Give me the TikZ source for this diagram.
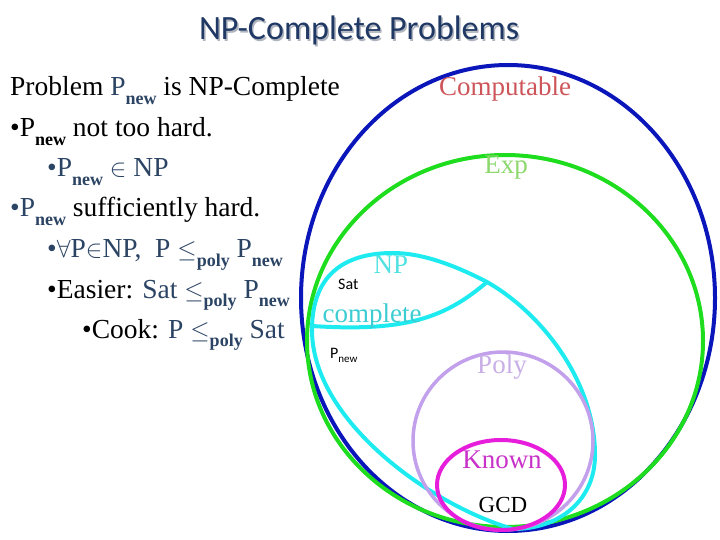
\documentclass[tikz,border=0pt]{standalone}
\usepackage{fontspec}
\setmainfont{Liberation Serif}
\newfontfamily\titlefont{Carlito}
\newfontfamily\labsans{Carlito}
\definecolor{titleblue}{RGB}{31,56,100}
\definecolor{shadowgray}{RGB}{175,180,190}
\definecolor{txtblue}{RGB}{44,68,100}
\definecolor{ccomp}{RGB}{10,22,185}
\definecolor{cexp}{RGB}{30,220,30}
\definecolor{cnp}{RGB}{30,235,240}
\definecolor{cpoly}{RGB}{195,160,235}
\definecolor{cknown}{RGB}{230,30,220}
\definecolor{tcomp}{RGB}{205,85,90}
\definecolor{texp}{RGB}{140,215,110}
\definecolor{tnp}{RGB}{80,225,225}
\definecolor{tcompl}{RGB}{60,205,210}
\definecolor{tpoly}{RGB}{200,175,230}
\definecolor{tknown}{RGB}{200,50,200}
\newcommand\lowsub[1]{\raisebox{-0.3em}{\fontsize{18}{18}\selectfont\bfseries #1}}
\newcommand\Pnew{P\lowsub{new}}
\newcommand\lepoly{$\leq$\lowsub{poly}}
\begin{document}
\begin{tikzpicture}[x=1pt,y=-1pt,
  txt/.style={anchor=base west,inner sep=0pt,font=\fontsize{27.5}{27.5}\selectfont},
  lab/.style={anchor=base,inner sep=0pt,font=\fontsize{27}{27}\selectfont},
  setline/.style={line width=4pt}]
\useasboundingbox (0,0) rectangle (720,540);
% title
\node[anchor=base,inner sep=0pt,font=\titlefont\fontsize{34}{34}\selectfont,text=shadowgray] (titlesh) at (360.5,41.5) {NP-Complete Problems};
\node[anchor=base,inner sep=0pt,font=\titlefont\fontsize{34}{34}\selectfont,text=titleblue] (title) at (359,40) {NP-Complete Problems};
% left text
\node[txt] (l1) at (10,96) {Problem \textcolor{txtblue}{\Pnew} is NP-Complete};
\node[txt] (l2) at (10,137) {•\Pnew\ not too hard.};
\node[txt,text=txtblue] (l3) at (47,177) {•\Pnew\ $\in$ NP};
\node[txt] (l4) at (10,217) {\textcolor{txtblue}{•\Pnew} sufficiently hard.};
\node[txt,text=txtblue] (l5) at (47,258) {•$\forall$P$\in$NP,\ \ P \lepoly\ \Pnew};
\node[txt] (l6) at (47,298) {•Easier: \textcolor{txtblue}{Sat \lepoly\ \Pnew}};
\node[txt] (l7) at (82,338) {•Cook: \textcolor{txtblue}{P \lepoly\ Sat}};
% sets
\draw[setline,ccomp] (508,298) ellipse [x radius=207, y radius=233];
\draw[setline,cexp] (505,341) ellipse [x radius=198, y radius=186];
\draw[setline,cnp] (513,529) .. controls (430,505) and (312,420) .. (312,330)
  .. controls (312,270) and (350,253) .. (393,253)
  .. controls (425,253) and (460,268) .. (487,282)
  .. controls (540,312) and (595,380) .. (595,455)
  .. controls (595,500) and (560,529) .. cycle;
\draw[setline,cnp] (312,326) .. controls (405,332) and (445,318) .. (487,282);
\draw[line width=3.5pt,cpoly] (503,441) ellipse [x radius=90, y radius=89];
\draw[setline,cknown] (501,485) ellipse [x radius=64, y radius=45];
% labels
\node[lab,text=tcomp] (lcomp) at (505,96) {Computable};
\node[lab,text=texp] (lexp) at (506,174) {Exp};
\node[lab,text=tnp] (lnp) at (391,273) {NP};
\node[lab,text=tcompl] (lcompl) at (372,322) {complete};
\node[lab,text=tpoly] (lpoly) at (502,373) {Poly};
\node[lab,text=tknown] (lknown) at (502,468) {Known};
\node[lab,font=\fontsize{23}{23}\selectfont] (lgcd) at (503,512) {GCD};
\node[anchor=base west,inner sep=0pt,font=\labsans\fontsize{16}{16}\selectfont] (lsat) at (338,289) {Sat};
\node[anchor=base west,inner sep=0pt,font=\labsans\fontsize{16}{16}\selectfont] (lpnew) at (330,358) {P\raisebox{-0.3em}{\fontsize{11}{11}\selectfont new}};
\end{tikzpicture}
\end{document}
